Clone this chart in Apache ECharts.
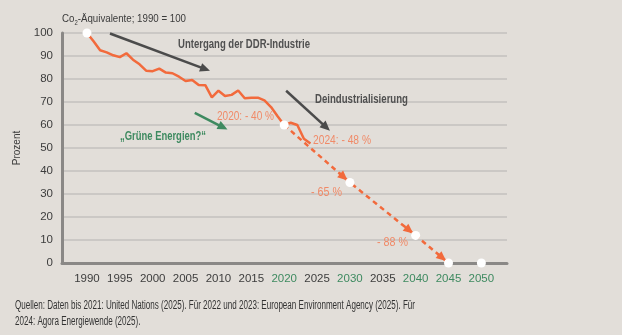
<!DOCTYPE html>
<html>
<head>
<meta charset="utf-8">
<script src="https://cdn.jsdelivr.net/npm/echarts@6/dist/echarts.min.js"></script>
<style>
  html, body { margin: 0; padding: 0; background: #e2ded9; }
  #chart { width: 622px; height: 335px; }
</style>
</head>
<body>
<div id="chart"></div>
<script>
// Treibhausgasemissionen, Index 1990 = 100
const years = [1990, 1991, 1992, 1993, 1994, 1995, 1996, 1997, 1998, 1999,
               2000, 2001, 2002, 2003, 2004, 2005, 2006, 2007, 2008, 2009,
               2010, 2011, 2012, 2013, 2014, 2015, 2016, 2017, 2018, 2019,
               2020, 2021, 2022, 2023, 2024];
const emissions = [100, 96.4, 92.5, 91.6, 90.3, 89.5, 91.2, 88.4, 86.4, 83.6,
                   83.4, 84.5, 82.8, 82.5, 81.0, 79.1, 79.6, 77.4, 77.3, 72.0,
                   74.9, 72.6, 73.1, 75.0, 71.6, 71.8, 71.9, 70.7, 67.8, 63.8,
                   60, 61, 60, 54, 52];

// Zielpfad
const targetYears = [2020, 2030, 2040, 2045];
const targetValues = [60, 35, 12, 0];

// weiße Markierungspunkte
const markerYears = [1990, 2020, 2030, 2040, 2045, 2050];
const markerValues = [100, 60, 35, 12, 0, 0];

// Achsenbeschriftung
const tickYears = [1990, 1995, 2000, 2005, 2010, 2015, 2020, 2025, 2030, 2035, 2040, 2045, 2050];
const greenTickYears = [2020, 2030, 2040, 2045, 2050];

// Hinweispfeile (Start- und Endpunkt in Achsenkoordinaten)
const arrowDDR = [[1993.5, 99.8], [2008.0, 84.3]];
const arrowDeind = [[2020.3, 74.9], [2026.4, 59.0]];
const arrowGreen = [[2006.4, 65.3], [2010.7, 59.0]];

const FONT = "'Liberation Sans', 'Noto Sans', sans-serif";
const ORANGE = '#f26a3c';
const ORANGE_TEXT = '#f08a68';
const GREEN = '#3e8a60';
const DARK = '#4b4b4b';
const TEXT = '#3a3a3a';

// schmale Satzbreite: horizontale Stauchung des Textes auf eine Zielbreite
const measureCtx = document.createElement('canvas').getContext('2d');
function textWidth(str, size, weight) {
  measureCtx.font = (weight || 'normal') + ' ' + size + 'px ' + FONT;
  return measureCtx.measureText(str).width;
}
function condensedText(str, x, y, width, size, color, weight) {
  const w = textWidth(str.split('\n')[0], size, weight);
  return {
    type: 'text', x: x, y: y, z: 100, silent: true,
    scaleX: Math.min(1, width / w),
    style: {
      text: str, fontSize: size, fontWeight: weight || 'normal', fill: color,
      fontFamily: FONT, align: 'left', verticalAlign: 'middle', lineHeight: 16
    }
  };
}

const chart = echarts.init(document.getElementById('chart'), null, { renderer: 'canvas' });

function pointerLine(pts, color, width) {
  return {
    data: [[{ coord: pts[0] }, { coord: pts[1] }]],
    symbol: ['none', 'triangle'],
    symbolSize: [9, 10],
    silent: true,
    label: { show: false },
    emphasis: { disabled: true },
    animation: false,
    lineStyle: { color: color, width: width, type: 'solid', opacity: 1 }
  };
}

const titleMain = 'Co-Äquivalente; 1990 = 100';
const titleScale = Math.min(1, 124 / (textWidth(titleMain, 11.5) + textWidth('2', 7)));

const option = {
  animation: false,
  backgroundColor: '#e2ded9',
  textStyle: { fontFamily: FONT },
  grid: { left: 62, right: 115, top: 33, bottom: 72 },
  xAxis: {
    type: 'value',
    min: 1986.2,
    max: 2053.9,
    splitLine: { show: false },
    axisTick: { show: false },
    axisLine: { show: true, lineStyle: { color: '#8a8886', width: 3 } },
    axisLabel: {
      customValues: tickYears,
      margin: 10,
      fontSize: 11.5,
      fontFamily: FONT,
      formatter: function (v) {
        return greenTickYears.indexOf(v) >= 0 ? '{g|' + v + '}' : '{d|' + v + '}';
      },
      rich: {
        d: { color: '#3d3d3d', fontSize: 11.5, fontFamily: FONT },
        g: { color: GREEN, fontSize: 11.5, fontFamily: FONT }
      }
    }
  },
  yAxis: {
    type: 'value',
    min: 0,
    max: 100,
    interval: 10,
    name: 'Prozent',
    nameLocation: 'middle',
    nameRotate: 90,
    nameGap: 40,
    nameMoveOverlap: false,
    nameTextStyle: { fontSize: 10, color: '#3d3d3d', fontFamily: FONT },
    axisLine: { show: true, lineStyle: { color: '#8a8886', width: 3 } },
    axisTick: { show: false },
    axisLabel: { color: '#3d3d3d', fontSize: 11.5, margin: 9, fontFamily: FONT },
    splitLine: { show: true, lineStyle: { color: '#cbc8c5', width: 2 } }
  },
  series: [
    {
      name: 'Zielpfad',
      type: 'line',
      data: targetYears.map((y, i) => [y, targetValues[i]]),
      symbol: 'none',
      silent: true,
      z: 3,
      lineStyle: { color: ORANGE, width: 2.5, type: [5, 4] }
    },
    {
      name: 'Emissionen',
      type: 'line',
      data: years.map((y, i) => [y, emissions[i]]),
      symbol: 'none',
      silent: true,
      z: 4,
      lineStyle: { color: ORANGE, width: 2.5 }
    },
    { name: 'Hinweis DDR', type: 'line', data: [], silent: true, z: 5, markLine: pointerLine(arrowDDR, DARK, 2.5) },
    { name: 'Hinweis Deindustrialisierung', type: 'line', data: [], silent: true, z: 5, markLine: pointerLine(arrowDeind, DARK, 2.5) },
    { name: 'Hinweis Grüne Energien', type: 'line', data: [], silent: true, z: 5, markLine: pointerLine(arrowGreen, GREEN, 2.5) },
    {
      name: 'Punkte',
      type: 'scatter',
      data: markerYears.map((y, i) => [y, markerValues[i]]),
      symbol: 'circle',
      symbolSize: 9,
      silent: true,
      z: 20,
      itemStyle: { color: '#ffffff', opacity: 1 }
    }
  ],
  graphic: [
    {
      type: 'text', x: 62, y: 19, z: 100, silent: true, scaleX: titleScale,
      style: {
        text: '{n|Co}{s|2}{n|-Äquivalente; 1990 = 100}',
        verticalAlign: 'middle', align: 'left',
        rich: {
          n: { fontSize: 11.5, fill: TEXT, fontFamily: FONT, lineHeight: 15, verticalAlign: 'middle' },
          s: { fontSize: 7, fill: TEXT, fontFamily: FONT, lineHeight: 9, verticalAlign: 'bottom' }
        }
      }
    },
    condensedText('Untergang der DDR-Industrie', 178, 45, 132, 12, '#505050', 'bold'),
    condensedText('Deindustrialisierung', 315, 100, 93, 12, '#505050', 'bold'),
    condensedText('„Grüne Energien?“', 120, 137, 86, 12, GREEN, 'bold'),
    condensedText('2020: - 40 %', 217, 117, 57, 12, ORANGE_TEXT),
    condensedText('2024: - 48 %', 313, 141, 58, 12, ORANGE_TEXT),
    condensedText('- 65 %', 311, 193, 31, 12, ORANGE_TEXT),
    condensedText('- 88 %', 377, 243, 31, 12, ORANGE_TEXT),
    condensedText('Quellen: Daten bis 2021: United Nations (2025). Für 2022 und 2023: European Environment Agency (2025). Für\n2024: Agora Energiewende (2025).',
      15, 314, 400, 12, '#333333')
  ]
};

chart.setOption(option);

// Pfeilspitzen auf dem Zielpfad: kurz vor jedem Zielpunkt
const heads = [];
for (let i = 1; i < targetYears.length; i++) {
  const a = chart.convertToPixel({ gridIndex: 0 }, [targetYears[i - 1], targetValues[i - 1]]);
  const b = chart.convertToPixel({ gridIndex: 0 }, [targetYears[i], targetValues[i]]);
  const dx = b[0] - a[0], dy = b[1] - a[1];
  const len = Math.sqrt(dx * dx + dy * dy);
  const ux = dx / len, uy = dy / len;
  const tip = [b[0] - ux * 8, b[1] - uy * 8];
  const tail = [tip[0] - ux * 6, tip[1] - uy * 6];
  heads.push([
    { coord: chart.convertFromPixel({ gridIndex: 0 }, tail) },
    { coord: chart.convertFromPixel({ gridIndex: 0 }, tip) }
  ]);
}
chart.setOption({
  series: [{
    name: 'Zielpfad',
    markLine: {
      data: heads,
      symbol: ['none', 'triangle'],
      symbolSize: [9, 10],
      silent: true,
      label: { show: false },
      emphasis: { disabled: true },
      animation: false,
      lineStyle: { color: ORANGE, width: 2.5, type: 'solid' }
    }
  }]
});
</script>
</body>
</html>
